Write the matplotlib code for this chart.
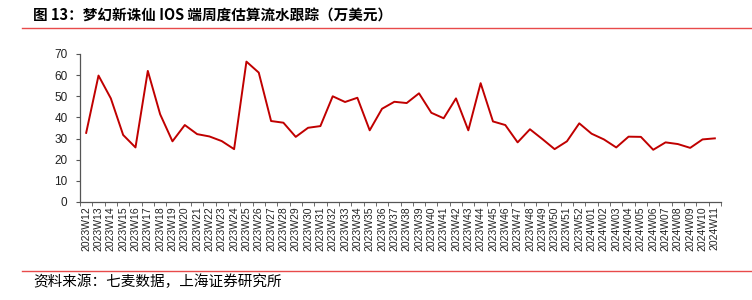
import matplotlib.pyplot as plt
import matplotlib.lines as mlines

plt.rcParams['font.family'] = ['Noto Sans CJK SC', 'DejaVu Sans']

# weekly labels
weeks_2023 = ['2023W%02d' % w for w in range(12, 53)]
weeks_2024 = ['2024W%02d' % w for w in range(1, 12)]
weeks = weeks_2023 + weeks_2024

# estimated weekly revenue (万美元)
revenue = [32.7, 59.8, 49.0, 31.7, 25.8, 62.0, 41.5, 28.7, 36.4, 32.1,
           31.0, 28.8, 25.0, 66.4, 61.2, 38.3, 37.5, 30.8, 35.1, 35.9,
           50.0, 47.3, 49.3, 33.9, 44.1, 47.4, 46.8, 51.4, 42.2, 39.6,
           49.0, 33.9, 56.2, 38.1, 36.4, 28.2, 34.4, 29.8, 25.0, 28.7,
           37.2, 32.3, 29.6, 25.8, 30.9, 30.8, 24.7, 28.2, 27.4, 25.6,
           29.6, 30.1]

title = '图 13：梦幻新诛仙 IOS 端周度估算流水跟踪（万美元）'
source = '资料来源：七麦数据，上海证券研究所'

fig = plt.figure(figsize=(7.52, 3.0), dpi=100)
ax = fig.add_axes([0.1064, 0.3267, 0.8524, 0.4933])

x = list(range(len(weeks)))
ax.plot(x, revenue, color='#C00000', linewidth=1.4)

ax.set_xlim(-0.5, len(weeks) - 0.5)
ax.set_ylim(0, 70)
ax.set_yticks(range(0, 71, 10))
ax.set_xticks(x)
ax.set_xticklabels(weeks, rotation=90, fontsize=7.5, family=['Liberation Sans'], color='#222222')
ax.tick_params(axis='x', length=0, pad=3)
ax.set_xticks([i - 0.5 for i in range(len(weeks) + 1)], minor=True)
ax.tick_params(axis='x', which='minor', length=3, direction='out', color='#555555')
ax.tick_params(axis='y', length=3, direction='out', color='#555555', labelsize=8.5, labelcolor='#222222', pad=6)
for lab in ax.get_yticklabels():
    lab.set_family(['Liberation Sans'])

for s in ['top', 'right']:
    ax.spines[s].set_visible(False)
for s in ['left', 'bottom']:
    ax.spines[s].set_color('#555555')
    ax.spines[s].set_linewidth(0.9)

# title and source with red rules
fig.text(0.044, 0.948, title, fontsize=10.5, fontweight='bold', va='center', ha='left')
fig.add_artist(mlines.Line2D([22 / 752, 1.0], [1 - 27.5 / 300] * 2, color='#E84A4A', linewidth=1.0))
fig.add_artist(mlines.Line2D([22 / 752, 1.0], [1 - 270.5 / 300] * 2, color='#E84A4A', linewidth=1.0))
fig.text(0.044, 1 - 282 / 300, source, fontsize=10.5, style='italic', va='center', ha='left')

plt.savefig('out.png', dpi=100)
